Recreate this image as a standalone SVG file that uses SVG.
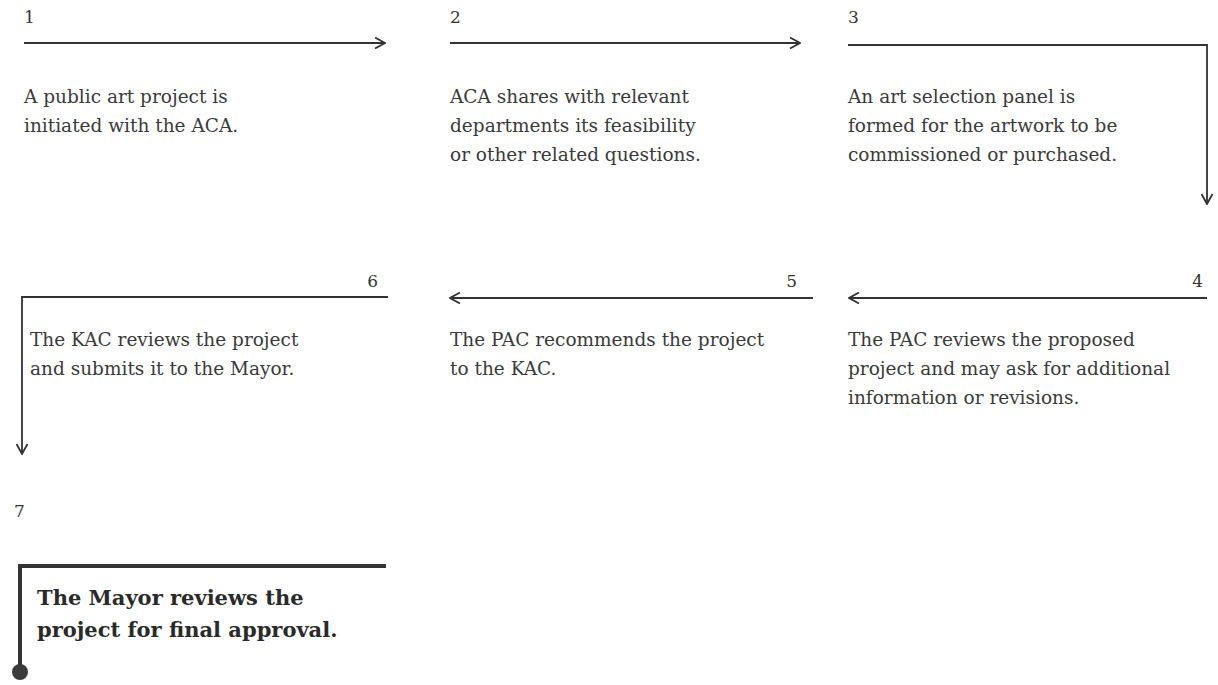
<svg xmlns="http://www.w3.org/2000/svg" width="1218" height="685" viewBox="0 0 1218 685">
<style>
  .num { font-family: "DejaVu Serif", "Liberation Serif", serif; font-size: 17px; fill: #333; }
  .txt { font-family: "DejaVu Serif", "Liberation Serif", serif; font-size: 18.5px; fill: #3a3a3a; }
  .bold { font-family: "DejaVu Serif", "Liberation Serif", serif; font-size: 21px; font-weight: bold; fill: #2a2a2a; }
  .ln { stroke: #333; stroke-width: 1.8; fill: none; }
  .thick { stroke: #333; stroke-width: 4; fill: none; }
</style>
<defs>
  <marker id="arr" viewBox="0 0 12 12" refX="11" refY="6" markerWidth="12" markerHeight="12" markerUnits="userSpaceOnUse" orient="auto">
    <path d="M1,0.5 L11,6 L1,11.5" fill="none" stroke="#333" stroke-width="1.8"/>
  </marker>
</defs>
<rect width="1218" height="685" fill="#ffffff"/>
<g id="connectors">
  <line class="ln" x1="24" y1="43" x2="385" y2="43" marker-end="url(#arr)"/>
  <line class="ln" x1="450" y1="43" x2="800" y2="43" marker-end="url(#arr)"/>
  <polyline class="ln" points="848,45 1207,45 1207,204" marker-end="url(#arr)"/>
  <line class="ln" x1="1207" y1="298" x2="849" y2="298" marker-end="url(#arr)"/>
  <line class="ln" x1="813" y1="298" x2="450" y2="298" marker-end="url(#arr)"/>
  <polyline class="ln" points="388,297 22,297 22,454" marker-end="url(#arr)"/>
  <polyline class="thick" points="386,566 20,566 20,668"/>
  <circle cx="20" cy="672" r="8" fill="#3a3a3a"/>
</g>
<g id="step1">
  <text class="num" x="24" y="23">1</text>
  <text class="txt" x="24" y="103">A public art project is</text>
  <text class="txt" x="24" y="132">initiated with the ACA.</text>
</g>
<g id="step2">
  <text class="num" x="450" y="23">2</text>
  <text class="txt" x="450" y="103">ACA shares with relevant</text>
  <text class="txt" x="450" y="132">departments its feasibility</text>
  <text class="txt" x="450" y="161">or other related questions.</text>
</g>
<g id="step3">
  <text class="num" x="848" y="23">3</text>
  <text class="txt" x="848" y="103">An art selection panel is</text>
  <text class="txt" x="848" y="132">formed for the artwork to be</text>
  <text class="txt" x="848" y="161">commissioned or purchased.</text>
</g>
<g id="step4">
  <text class="num" x="1203" y="287" text-anchor="end">4</text>
  <text class="txt" x="848" y="346">The PAC reviews the proposed</text>
  <text class="txt" x="848" y="375">project and may ask for additional</text>
  <text class="txt" x="848" y="404">information or revisions.</text>
</g>
<g id="step5">
  <text class="num" x="797" y="287" text-anchor="end">5</text>
  <text class="txt" x="450" y="346">The PAC recommends the project</text>
  <text class="txt" x="450" y="375">to the KAC.</text>
</g>
<g id="step6">
  <text class="num" x="378" y="287" text-anchor="end">6</text>
  <text class="txt" x="30" y="346">The KAC reviews the project</text>
  <text class="txt" x="30" y="375">and submits it to the Mayor.</text>
</g>
<g id="step7">
  <text class="num" x="14" y="517">7</text>
  <text class="bold" x="37" y="605">The Mayor reviews the</text>
  <text class="bold" x="37" y="637">project for final approval.</text>
</g>
</svg>
